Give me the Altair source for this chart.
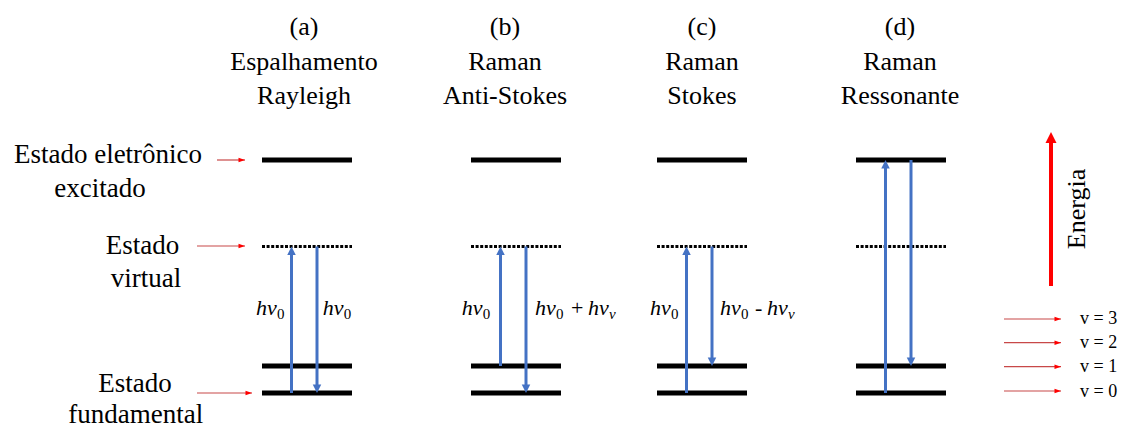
import altair as alt
import pandas as pd

# ---------------- data (page pixel coordinates) ----------------
PLOT_W, PLOT_H = 1110, 418
ORIGIN = 8

panel_keys = ["a", "b", "c", "d"]
panel_center = [307, 516, 702, 901]
title_center = [304, 505, 702, 900]
title_lines = [
    ["(a)", "(b)", "(c)", "(d)"],
    ["Espalhamento", "Raman", "Raman", "Raman"],
    ["Rayleigh", "Anti-Stokes", "Stokes", "Ressonante"],
]
title_baseline = [35, 70, 104]

level_names = ["excitado", "virtual", "v1", "v0"]
level_y = [160, 246.5, 366, 393]
level_dotted = [False, True, False, False]
level_halfwidth = 45

arrow_panel = ["a", "a", "b", "b", "c", "c", "d", "d"]
arrow_dir = ["up", "down", "up", "down", "up", "down", "up", "down"]
arrow_from = ["v0", "virtual", "v1", "virtual", "v0", "virtual", "v0", "excitado"]
arrow_to = ["virtual", "v0", "virtual", "v0", "virtual", "v1", "excitado", "v1"]
arrow_dx = {"up": -15.5, "down": 10}
head_len = 7

# math labels: start x of each label, then segments (offset, text, kind)
label_start = [256, 322.7, 461.7, 535, 650, 720]
label_segments = [
    [(0, "hν", "main"), (21, "0", "sub")],
    [(0, "hν", "main"), (21, "0", "sub")],
    [(0, "hν", "main"), (21, "0", "sub")],
    [(0, "hν", "main"), (21, "0", "sub"), (36, "+", "op"), (53, "hν", "main"), (74, "v", "subi")],
    [(0, "hν", "main"), (21, "0", "sub"), (35, "-", "op"), (47, "hν", "main"), (68, "v", "subi")],
]
label_start = [256, 322.7, 461.7, 535, 720, 650]
label_segments.append([(0, "hν", "main"), (21, "0", "sub")])
label_baseline = 315
sub_drop = 3.5

left_text = ["Estado eletrônico", "excitado", "Estado", "virtual", "Estado", "fundamental"]
left_x = [108, 100, 142.5, 146, 135, 135.7]
left_y = [163, 197, 254, 287, 392, 423]

pointer_x1 = [217, 197, 197, 1004, 1004, 1004, 1004]
pointer_x2 = [245, 245, 252, 1061, 1061, 1061, 1061]
pointer_y = [160, 246, 393, 319, 342.7, 366.7, 391]

vib_text = ["v = 3", "v = 2", "v = 1", "v = 0"]
vib_x = 1080
vib_y = [319, 343, 367, 392]

energy_x = 1051
energy_y_from = 286
energy_y_tip = 132
energy_label = "Energia"
energy_label_x = 1077
energy_label_y = 209

# ---------------- build tables ----------------
lvl = dict(zip(level_names, level_y))
rows = []
for k, c in zip(panel_keys, panel_center):
    for n, yv, d in zip(level_names, level_y, level_dotted):
        rows.append({"x": c - level_halfwidth, "x2": c + level_halfwidth, "y": yv, "dotted": d})
levels = pd.DataFrame(rows)

pc = dict(zip(panel_keys, panel_center))
rows = []
for p, d, f, t in zip(arrow_panel, arrow_dir, arrow_from, arrow_to):
    x = pc[p] + arrow_dx[d]
    sign = 1 if d == "up" else -1
    rows.append({"x": x, "y": lvl[f], "y2": lvl[t] + sign * head_len, "tip": lvl[t], "dir": d})
arrows = pd.DataFrame(rows)

rows = []
for i, c in enumerate(title_center):
    for li, yb in enumerate(title_baseline):
        rows.append({"x": c, "y": yb, "label": title_lines[li][i]})
titles = pd.DataFrame(rows)

rows = []
for x0, segs in zip(label_start, label_segments):
    for off, txt, kind in segs:
        yb = label_baseline + (sub_drop if kind.startswith("sub") else 0)
        rows.append({"x": x0 + off, "y": yb, "label": txt, "kind": kind})
mathlab = pd.DataFrame(rows)

left = pd.DataFrame({"x": left_x, "y": left_y, "label": left_text})
pointers = pd.DataFrame({"x": pointer_x1, "x2": pointer_x2, "y": pointer_y})
vib = pd.DataFrame({"x": [vib_x] * len(vib_text), "y": vib_y, "label": vib_text})
energy = pd.DataFrame({"x": [energy_x], "y": [energy_y_from], "y2": [energy_y_tip + 8],
                       "tip": [energy_y_tip], "lx": [energy_label_x], "ly": [energy_label_y],
                       "label": [energy_label]})

# ---------------- scales ----------------
xs = alt.Scale(domain=[ORIGIN, ORIGIN + PLOT_W], nice=False, zero=False)
ys = alt.Scale(domain=[ORIGIN, ORIGIN + PLOT_H], nice=False, zero=False, reverse=True)


def X(f):
    return alt.X(f"{f}:Q", scale=xs, axis=None)


def Y(f):
    return alt.Y(f"{f}:Q", scale=ys, axis=None)


BLUE = "#4472C4"
SERIF = "Liberation Serif"
UP = "M0,0 L1,2 L-1,2 Z"
DOWN = "M0,0 L1,-2 L-1,-2 Z"
RIGHT = "M0,0 L-2,-0.7 L-2,0.7 Z"

solid = alt.Chart(levels).transform_filter("!datum.dotted").mark_rule(
    color="black", strokeWidth=5, strokeCap="butt"
).encode(x=X("x"), x2="x2:Q", y=Y("y"))

dotted = alt.Chart(levels).transform_filter("datum.dotted").mark_rule(
    color="black", strokeWidth=3, strokeDash=[3, 1.6], strokeCap="butt"
).encode(x=X("x"), x2="x2:Q", y=Y("y"))

shafts = alt.Chart(arrows).mark_rule(color=BLUE, strokeWidth=3, strokeCap="butt").encode(
    x=X("x"), y=Y("y"), y2="y2:Q"
)
heads_up = alt.Chart(arrows).transform_filter("datum.dir == 'up'").mark_point(
    shape=UP, filled=True, size=72, color=BLUE, opacity=1, strokeWidth=0
).encode(x=X("x"), y=Y("tip"))
heads_down = alt.Chart(arrows).transform_filter("datum.dir == 'down'").mark_point(
    shape=DOWN, filled=True, size=72, color=BLUE, opacity=1, strokeWidth=0
).encode(x=X("x"), y=Y("tip"))

ptr_line = alt.Chart(pointers).mark_rule(color="#C84848", strokeWidth=1.2).encode(
    x=X("x"), x2="x2:Q", y=Y("y")
)
ptr_head = alt.Chart(pointers).mark_point(
    shape=RIGHT, filled=True, size=42, color="#FF0000", opacity=1, strokeWidth=0
).encode(x=X("x2"), y=Y("y"))

en_line = alt.Chart(energy).mark_rule(color="#FF0000", strokeWidth=4, strokeCap="butt").encode(
    x=X("x"), y=Y("y"), y2="y2:Q"
)
en_head = alt.Chart(energy).mark_point(
    shape=UP, filled=True, size=121, color="#FF0000", opacity=1, strokeWidth=0
).encode(x=X("x"), y=Y("tip"))
en_text = alt.Chart(energy).mark_text(
    font=SERIF, fontSize=26, angle=270, align="center", baseline="middle", color="black"
).encode(x=X("lx"), y=Y("ly"), text="label:N")

title_text = alt.Chart(titles).mark_text(
    font=SERIF, fontSize=26, align="center", baseline="alphabetic", color="black"
).encode(x=X("x"), y=Y("y"), text="label:N")

left_lab = alt.Chart(left).mark_text(
    font=SERIF, fontSize=27, align="center", baseline="alphabetic", color="black"
).encode(x=X("x"), y=Y("y"), text="label:N")

vib_lab = alt.Chart(vib).mark_text(
    font=SERIF, fontSize=18, align="left", baseline="middle", color="black"
).encode(x=X("x"), y=Y("y"), text="label:N")

m_main = alt.Chart(mathlab).transform_filter("datum.kind == 'main'").mark_text(
    font=SERIF, fontSize=22, fontStyle="italic", align="left", baseline="alphabetic", color="black"
).encode(x=X("x"), y=Y("y"), text="label:N")
m_op = alt.Chart(mathlab).transform_filter("datum.kind == 'op'").mark_text(
    font=SERIF, fontSize=22, align="left", baseline="alphabetic", color="black"
).encode(x=X("x"), y=Y("y"), text="label:N")
m_sub = alt.Chart(mathlab).transform_filter("datum.kind == 'sub'").mark_text(
    font=SERIF, fontSize=15, align="left", baseline="alphabetic", color="black"
).encode(x=X("x"), y=Y("y"), text="label:N")
m_subi = alt.Chart(mathlab).transform_filter("datum.kind == 'subi'").mark_text(
    font=SERIF, fontSize=15, fontStyle="italic", align="left", baseline="alphabetic", color="black"
).encode(x=X("x"), y=Y("y"), text="label:N")

chart = alt.layer(
    solid, dotted, shafts, heads_up, heads_down, ptr_line, ptr_head,
    en_line, en_head, en_text, title_text, left_lab, vib_lab,
    m_main, m_op, m_sub, m_subi,
).properties(
    width=PLOT_W, height=PLOT_H, padding=0, autosize=alt.AutoSizeParams(type="none"),
).configure(font=SERIF).configure_text(font=SERIF).configure_view(stroke=None)

chart.save("out.html", embed_options={"renderer": "svg", "actions": False})
